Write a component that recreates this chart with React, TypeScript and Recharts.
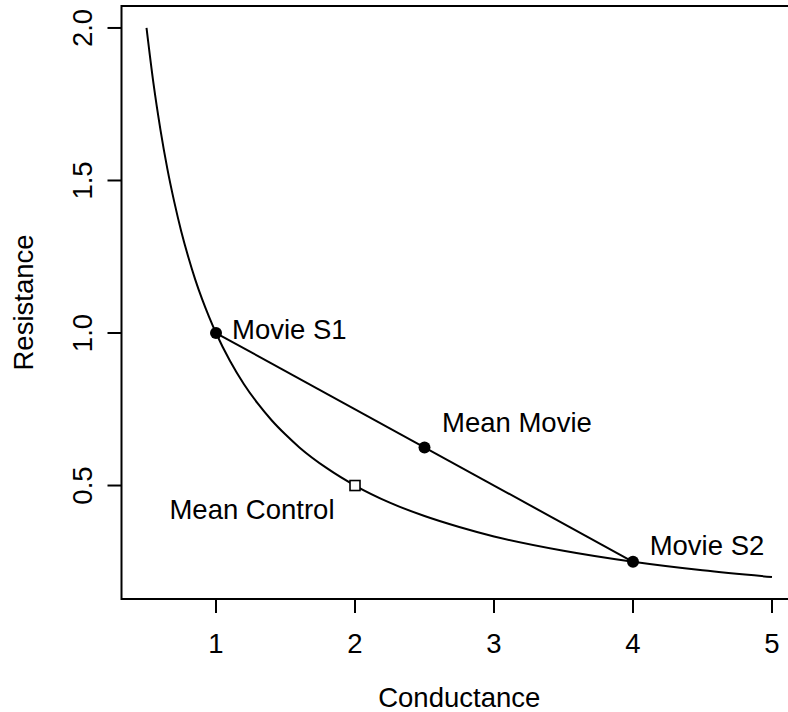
import React from 'react';
import { ComposedChart, Line, Scatter, XAxis, YAxis, ReferenceArea } from 'recharts';

// Curve (Resistance vs Conductance)
const curveX = [0.5, 0.55, 0.6, 0.65, 0.7, 0.75, 0.8, 0.85, 0.9, 0.95, 1.0, 1.1, 1.2, 1.3, 1.4, 1.5, 1.6, 1.8, 2.0, 2.25, 2.5, 2.75, 3.0, 3.5, 4.0, 4.5, 5.0];
const curveY = [2.0, 1.818, 1.667, 1.538, 1.429, 1.333, 1.25, 1.176, 1.111, 1.053, 1.0, 0.909, 0.833, 0.769, 0.714, 0.667, 0.625, 0.556, 0.5, 0.444, 0.4, 0.364, 0.333, 0.286, 0.25, 0.222, 0.2];

// Straight line between the two movie states
const segX = [1, 4];
const segY = [1, 0.25];

// Filled points
const dotX = [1, 2.5, 4];
const dotY = [1, 0.625, 0.25];

// Hollow square
const squareX = [2];
const squareY = [0.5];

// Annotations
const labelText = ['Movie S1', 'Mean Movie', 'Movie S2', 'Mean Control'];
const labelX = [1.115, 2.626, 4.12, 0.665];
const labelY = [1.01, 0.708, 0.302, 0.42];

const xTicks = [1, 2, 3, 4, 5];
const yTicks = [0.5, 1.0, 1.5, 2.0];
const yTickLabels = ['0.5', '1.0', '1.5', '2.0'];
const xDomain = [0.32, 5.18];
const yDomain = [0.128, 2.072];

const curveData = curveX.map((x, i) => ({ x, y: curveY[i] }));
const segData = segX.map((x, i) => ({ x, y: segY[i] }));
const dotData = dotX.map((x, i) => ({ x, y: dotY[i] }));
const squareData = squareX.map((x, i) => ({ x, y: squareY[i] }));
const labelData = labelText.map((t, i) => ({ x: labelX[i], y: labelY[i], t }));

const FONT = '"Liberation Sans", Arial, Helvetica, sans-serif';
const FS = 27.5;

const XTick = (props: any) => {
  const { x, y, payload } = props;
  return (
    <text x={x} y={y + 30} textAnchor="middle" dominantBaseline="central" fontFamily={FONT} fontSize={FS} fill="#000">
      {String(payload.value)}
    </text>
  );
};

const YTick = (props: any) => {
  const { x, y, payload } = props;
  const idx = yTicks.indexOf(payload.value);
  const cx = x - 25;
  return (
    <text x={cx} y={y} transform={`rotate(-90, ${cx}, ${y})`} textAnchor="middle" dominantBaseline="central" fontFamily={FONT} fontSize={FS} fill="#000">
      {idx >= 0 ? yTickLabels[idx] : String(payload.value)}
    </text>
  );
};

const XLabel = (props: any) => {
  const vb = props.viewBox || {};
  const cx = vb.x + vb.width / 2;
  return (
    <text x={cx} y={697} textAnchor="middle" dominantBaseline="central" fontFamily={FONT} fontSize={FS} fill="#000">
      Conductance
    </text>
  );
};

const YLabel = (props: any) => {
  const vb = props.viewBox || {};
  const cy = vb.y + vb.height / 2;
  const cx = 23;
  return (
    <text x={cx} y={cy} transform={`rotate(-90, ${cx}, ${cy})`} textAnchor="middle" dominantBaseline="central" fontFamily={FONT} fontSize={FS} fill="#000">
      Resistance
    </text>
  );
};

const Dot = (props: any) => <circle cx={props.cx} cy={props.cy} r={6} fill="#000" />;
const Square = (props: any) => (
  <rect x={props.cx - 5} y={props.cy - 5} width={10} height={10} fill="#fff" stroke="#000" strokeWidth={1.6} />
);
const TextMark = (props: any) => (
  <text x={props.cx} y={props.cy} textAnchor="start" dominantBaseline="central" fontFamily={FONT} fontSize={FS} fill="#000">
    {props.payload.t}
  </text>
);

export default function App() {
  return (
    <div style={{ position: 'absolute', left: 0, top: 0, width: 788, height: 712, overflow: 'hidden', background: '#fff' }}>
      <ComposedChart width={800} height={712} margin={{ top: 6, right: 3, left: 0, bottom: 0 }}>
        <XAxis
          dataKey="x"
          type="number"
          domain={xDomain}
          ticks={xTicks}
          allowDataOverflow
          height={113}
          axisLine={false}
          tickLine={{ stroke: '#000', strokeWidth: 2 }}
          tickSize={14}
          tickMargin={0}
          tick={<XTick />}
          label={<XLabel />}
        />
        <YAxis
          dataKey="y"
          type="number"
          domain={yDomain}
          ticks={yTicks}
          allowDataOverflow
          width={121.5}
          axisLine={false}
          tickLine={{ stroke: '#000', strokeWidth: 2 }}
          tickSize={14}
          tickMargin={0}
          tick={<YTick />}
          label={<YLabel />}
        />
        <ReferenceArea x1={xDomain[0]} x2={xDomain[1]} y1={yDomain[0]} y2={yDomain[1]} fill="none" fillOpacity={0} stroke="#000" strokeWidth={2} ifOverflow="visible" />
        <Line data={curveData} dataKey="y" type="monotone" stroke="#000" strokeWidth={2} dot={false} activeDot={false} isAnimationActive={false} />
        <Line data={segData} dataKey="y" type="linear" stroke="#000" strokeWidth={2} dot={false} activeDot={false} isAnimationActive={false} />
        <Scatter data={dotData} dataKey="y" shape={<Dot />} isAnimationActive={false} />
        <Scatter data={squareData} dataKey="y" shape={<Square />} isAnimationActive={false} />
        <Scatter data={labelData} dataKey="y" shape={<TextMark />} isAnimationActive={false} />
      </ComposedChart>
    </div>
  );
}
